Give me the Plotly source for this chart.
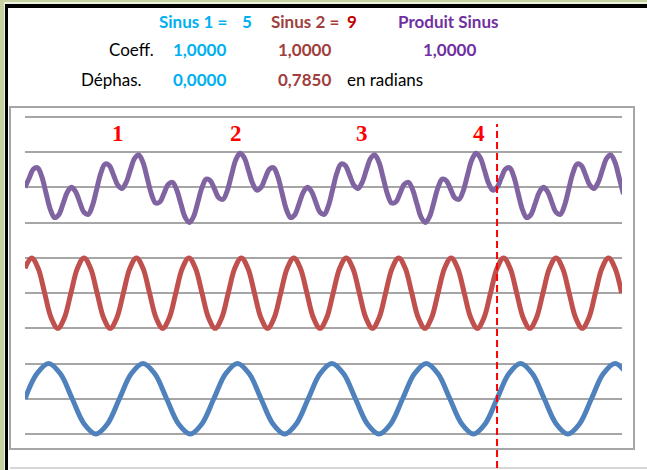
import numpy as np
import plotly.graph_objects as go

# angles in degrees (x), values as plotted on the stacked axis
blue_x = np.arange(0, 460, 9)
blue_y = [1, 1.707, 2, 1.707, 1, 0.293, 0, 0.293] * 6 + [1, 1.707, 2, 1.707]

red_x = np.arange(0, 456, 5)
red_y = [4.707, 5, 4.707, 4, 3.293, 3, 3.293, 4] * 11 + [4.707, 5, 4.707, 4]

purple_x = np.arange(143) * 360 / 112
purple_y = [
    7, 7.266, 7.519, 7.556, 7.298, 6.835, 6.38, 6.146, 6.223, 6.528, 6.857, 7.003, 6.882, 6.577,
    6.293, 6.234, 6.481, 6.944, 7.41, 7.665, 7.62, 7.354, 7.07, 6.972, 7.143, 7.497, 7.826, 7.923,
    7.707, 7.266, 6.812, 6.556, 6.59, 6.835, 7.088, 7.146, 6.93, 6.528, 6.15, 6.003, 6.174, 6.577,
    7, 7.234, 7.188, 6.944, 6.702, 6.665, 6.912, 7.354, 7.777, 7.972, 7.85, 7.497, 7.118, 6.923,
    7, 7.266, 7.519, 7.556, 7.298, 6.835, 6.38, 6.146, 6.223, 6.528, 6.857, 7.003, 6.882, 6.577,
    6.293, 6.234, 6.481, 6.944, 7.41, 7.665, 7.62, 7.354, 7.07, 6.972, 7.143, 7.497, 7.826, 7.923,
    7.707, 7.266, 6.812, 6.556, 6.59, 6.835, 7.088, 7.146, 6.93, 6.528, 6.15, 6.003, 6.174, 6.577,
    7, 7.234, 7.188, 6.944, 6.702, 6.665, 6.912, 7.354, 7.777, 7.972, 7.85, 7.497, 7.118, 6.923,
    7, 7.266, 7.519, 7.556, 7.298, 6.835, 6.38, 6.146, 6.223, 6.528, 6.857, 7.003, 6.882, 6.577,
    6.293, 6.234, 6.481, 6.944, 7.41, 7.665, 7.62, 7.354, 7.07, 6.972, 7.143, 7.497, 7.826, 7.923,
    7.707, 7.266, 6.812,
]

marker_labels = ["1", "2", "3", "4"]
marker_x = [71, 161, 257, 346]
period_x = 360

W, H = 647, 470
ML, MR, MT, MB = 25, 25, 107, 22
PW, PH = W - ML - MR, H - MT - MB


def px(x):
    return (x - ML) / PW


def py(y):
    return (H - MB - y) / PH


fig = go.Figure()
fig.add_trace(go.Scatter(x=purple_x, y=purple_y, mode="lines", line=dict(color="#8064a2", width=5, shape="spline")))
fig.add_trace(go.Scatter(x=red_x, y=red_y, mode="lines", line=dict(color="#c0504d", width=5, shape="spline")))
fig.add_trace(go.Scatter(x=blue_x, y=blue_y, mode="lines", line=dict(color="#4f81bd", width=5, shape="spline")))

shapes = [
    # outer sheet frame
    dict(type="rect", xref="paper", yref="paper", x0=px(4), x1=px(W + 5), y0=py(H + 5), y1=py(2),
         fillcolor="#eef2e2", line_width=0, layer="below"),
    dict(type="rect", xref="paper", yref="paper", x0=px(5), x1=px(W + 5), y0=py(H + 5), y1=py(4),
         fillcolor="black", line_width=0, layer="below"),
    dict(type="rect", xref="paper", yref="paper", x0=px(8), x1=px(W + 5), y0=py(H + 5), y1=py(8),
         fillcolor="white", line_width=0, layer="below"),
    dict(type="line", xref="paper", yref="paper", x0=px(10), x1=px(W + 5), y0=py(468), y1=py(468),
         line=dict(color="#c8c8c8", width=1.5), layer="below"),
    # chart box
    dict(type="rect", xref="paper", yref="paper", x0=px(10), x1=px(634), y0=py(449), y1=py(107),
         line=dict(color="#a6a6a6", width=2), layer="below"),
    # period marker
    dict(type="line", xref="x", yref="paper", x0=period_x, x1=period_x, y0=py(468), y1=py(124),
         line=dict(color="#ff0000", width=2, dash="7px,4px")),
]

annotations = []
for lab, xv in zip(marker_labels, marker_x):
    annotations.append(dict(x=xv, y=8.52, xref="x", yref="y", text="<b>%s</b>" % lab, showarrow=False,
                            font=dict(family="Liberation Serif", size=23, color="#ff0000")))

header = [
    ("<b>Sinus 1 =</b>", 159, 21.7, "#00b0f0"),
    ("<b>5</b>", 242, 21.7, "#00b0f0"),
    ("<b>Sinus 2 =</b>", 271, 21.7, "#a0403d"),
    ("<b>9</b>", 347, 21.7, "#c00000"),
    ("<b>Produit Sinus</b>", 398, 21.7, "#7030a0"),
    ("Coeff.", 109, 50, "black"),
    ("<b>1,0000</b>", 173, 50, "#00b0f0"),
    ("<b>1,0000</b>", 278, 50, "#a0403d"),
    ("<b>1,0000</b>", 423, 50, "#7030a0"),
    ("Déphas.", 81, 79, "black"),
    ("<b>0,0000</b>", 173, 79, "#00b0f0"),
    ("<b>0,7850</b>", 278, 79, "#a0403d"),
    ("en radians", 347, 79, "black"),
]
for txt, x, y, col in header:
    annotations.append(dict(x=px(x), y=py(y), xref="paper", yref="paper", text=txt, showarrow=False,
                            xanchor="left", yanchor="middle", xshift=-2,
                            font=dict(family="Lato", size=17, color=col)))

fig.update_layout(
    width=W, height=H, autosize=False,
    margin=dict(l=ML, r=MR, t=MT, b=MB, pad=0),
    paper_bgcolor="#c5d19e", plot_bgcolor="rgba(0,0,0,0)",
    showlegend=False,
    shapes=shapes, annotations=annotations,
    xaxis=dict(range=[0, 455.3], showgrid=False, zeroline=False, showticklabels=False, ticks=""),
    yaxis=dict(range=[-0.398, 9.284], dtick=1, tick0=0, showgrid=True, gridcolor="#a6a6a6",
               gridwidth=1.5, zeroline=False, showticklabels=False, ticks=""),
)

# page body has a default 8px margin; drop it so the figure sits at the window origin
fig.write_html("out.html", config={"displayModeBar": False},
               post_script="document.body.style.margin='0';")
